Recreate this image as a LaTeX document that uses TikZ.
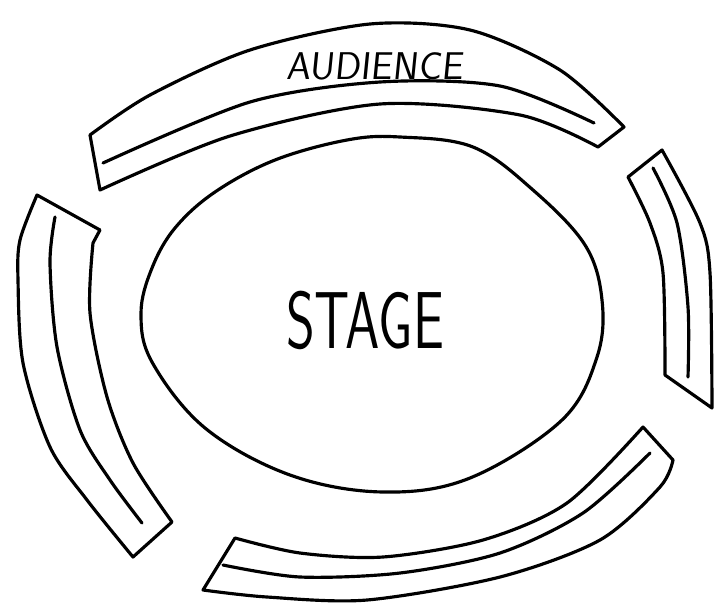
\documentclass[tikz,border=0pt]{standalone}
\tikzset{
  sketch/.style={line width=1.8pt, line cap=round, line join=round},
  hand/.style={font=\sffamily, inner sep=0pt}
}
\begin{document}
\begin{tikzpicture}[x=0.02cm,y=-0.02cm]
\useasboundingbox (0,0) rectangle (716,609);
% stage
\draw[sketch] plot[smooth cycle, tension=0.6] coordinates {(400,137) (473,147) (533,190) (585,245) (602,300) (597,357) (562,420) (470,478) (383,492) (290,475) (205,428) (152,362) (141,313) (152,268) (175,228) (215,192) (275,160) (347,140)};
\node[hand, xscale=0.68, font=\sffamily\fontsize{46}{46}\selectfont] (stage) at (365,320) {STAGE};
% audience, top
\draw[sketch] plot[smooth] coordinates {(90,135) (150,95) (250,50) (370,24) (470,30) (560,70) (624,127)}
  -- (598,147)
  -- plot[smooth] coordinates {(598,147) (520,115) (380,104) (230,136) (100,190)}
  -- cycle;
\draw[sketch] plot[smooth] coordinates {(103,163) (250,102) (380,82) (500,86) (594,123)};
\node[hand, font=\sffamily\fontsize{22}{22}\selectfont, xslant=0.1] (audience) at (376,66) {AUDIENCE};
% audience, right
\draw[sketch] plot[smooth] coordinates {(662,150) (700,223) (710,273) (712,408)}
  -- (665,375)
  -- plot[smooth] coordinates {(665,375) (663,273) (650,223) (628,177)}
  -- cycle;
\draw[sketch] plot[smooth] coordinates {(653,168) (677,223) (688,307) (688,377)};
% audience, bottom
\draw[sketch] plot[smooth] coordinates {(673,460) (660,487) (600,540) (500,577) (367,600) (267,597) (203,590)}
  -- (235,538)
  -- plot[smooth] coordinates {(235,538) (300,553) (383,557) (483,540) (567,503) (643,427)}
  -- cycle;
\draw[sketch] plot[smooth] coordinates {(223,565) (300,577) (400,573) (500,553) (583,513) (650,453)};
% audience, left
\draw[sketch] plot[smooth] coordinates {(37,195) (20,240) (18,280) (23,363) (50,447) (87,500) (133,557)}
  -- (172,522)
  -- plot[smooth] coordinates {(172,522) (133,463) (107,397) (90,313) (93,243)}
  -- (100,230) -- cycle;
\draw[sketch] plot[smooth] coordinates {(55,217) (50,263) (57,347) (80,430) (110,480) (142,523)};
\end{tikzpicture}
\end{document}
